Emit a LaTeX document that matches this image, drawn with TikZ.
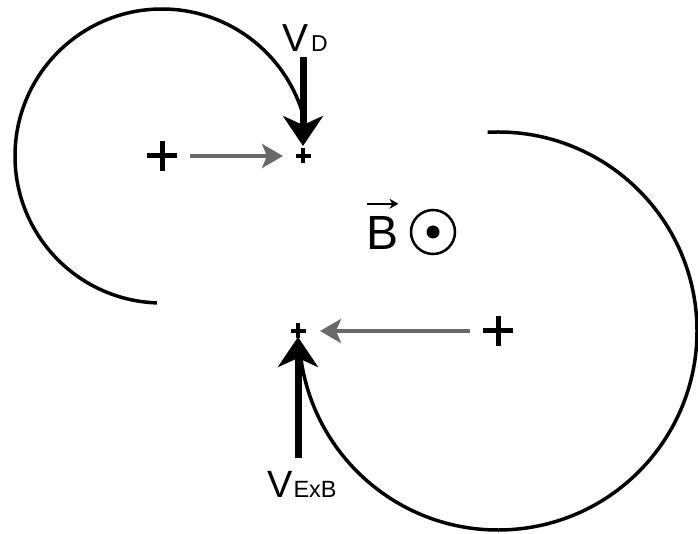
\documentclass[tikz,border=0pt]{standalone}
\usepackage{fontspec}
\setmainfont{Liberation Sans}
\usetikzlibrary{arrows.meta}
\definecolor{arrowgray}{RGB}{105,105,105}
\begin{document}
\begin{tikzpicture}[x=1pt,y=1pt,
  orbit/.style={line width=3.5pt},
  bigplus/.style={line width=5pt},
  smallplus/.style={line width=4pt},
  velarrow/.style={line width=7pt, -{Stealth[length=30pt,width=40pt,inset=9pt]}},
  driftarrow/.style={arrowgray, line width=4pt, -{Stealth[length=21pt,width=24pt,inset=5pt]}},
  lbl/.style={inner sep=0pt, anchor=base west}]
\useasboundingbox (0,0) rectangle (698,533);
% centres of gyration and particle positions
\coordinate (p1) at (162,377);
\coordinate (q1) at (303,377);
\coordinate (p2) at (498,202);
\coordinate (q2) at (298,202);
% orbits
\draw[orbit] (p1) ++(268:147) arc[start angle=268, end angle=17, radius=147];
\draw[orbit] (p2) ++(93:199) arc[start angle=93, end angle=-173, radius=199];
% plus signs
\draw[bigplus] ([xshift=-15pt]p1) -- ([xshift=15pt]p1) ([yshift=-15pt]p1) -- ([yshift=15pt]p1);
\draw[bigplus] ([xshift=-15pt]p2) -- ([xshift=15pt]p2) ([yshift=-15pt]p2) -- ([yshift=15pt]p2);
\draw[smallplus] ([xshift=-7.5pt]q1) -- ([xshift=7.5pt]q1) ([yshift=-7.5pt]q1) -- ([yshift=7.5pt]q1);
\draw[smallplus] ([xshift=-7.5pt]q2) -- ([xshift=7.5pt]q2) ([yshift=-7.5pt]q2) -- ([yshift=7.5pt]q2);
% labels
\node[lbl] (vd) at (282,481) {\fontsize{39}{39}\selectfont V\kern3pt\fontsize{23}{23}\selectfont D};
\node[lbl] (vexb) at (267,36) {\fontsize{38}{38}\selectfont V\kern1pt\fontsize{23.5}{23.5}\selectfont ExB};
\node[lbl] (B) at (366,283) {\fontsize{48}{48}\selectfont B};
\draw[line width=2.5pt, -{Stealth[length=9pt,width=10pt]}] ([shift={(1pt,13pt)}]B.north west) -- ([shift={(0pt,13pt)}]B.north east);
\node[circle, draw, line width=2.5pt, minimum size=44pt, inner sep=0pt] (bdot) at (433,301) {};
\fill (bdot.center) circle (6.5);
% velocity arrows
\draw[velarrow] ([yshift=-5pt]vd.south -| q1) -- ([yshift=10pt]q1);
\draw[velarrow] ([yshift=13pt]vexb.north -| q2) -- ([yshift=-6pt]q2);
% drift arrows
\draw[driftarrow] ([xshift=28pt]p1) -- ([xshift=-20pt]q1);
\draw[driftarrow] ([xshift=-28pt]p2) -- ([xshift=22pt]q2);
\end{tikzpicture}
\end{document}
